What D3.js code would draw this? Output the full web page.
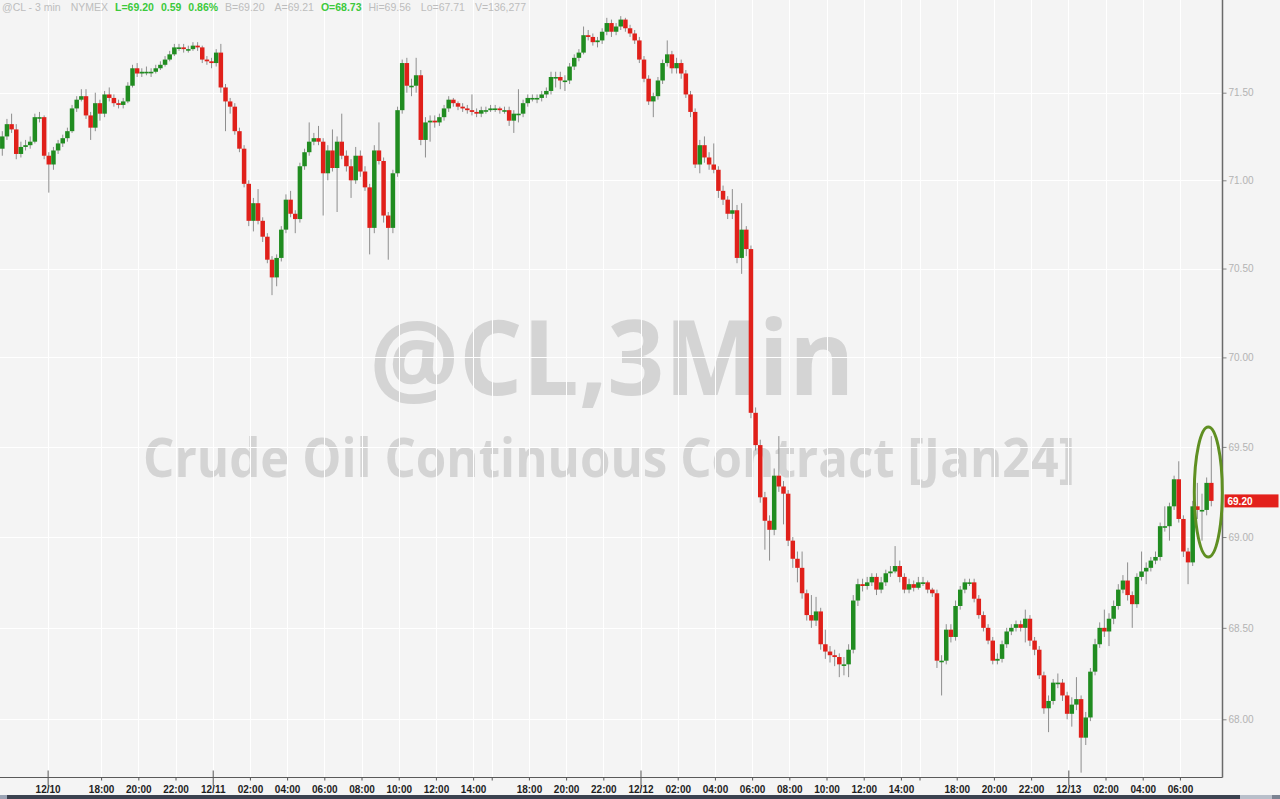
<!DOCTYPE html>
<html>
<head>
<meta charset="utf-8">
<script src="https://d3js.org/d3.v7.min.js"></script>
<style>
html, body { margin: 0; padding: 0; background: #f4f4f4; overflow: hidden; }
svg { display: block; }
</style>
</head>
<body>
<script>
const firstOpen = 71.18;
const closes = [
  71.25,71.32,71.29,71.15,71.19,71.20,71.22,71.36,71.36,71.14,
  71.09,71.17,71.21,71.24,71.28,71.41,71.46,71.48,71.37,71.30,
  71.44,71.38,71.49,71.47,71.44,71.43,71.45,71.54,71.64,71.61,
  71.62,71.62,71.62,71.64,71.66,71.69,71.72,71.76,71.76,71.75,
  71.75,71.77,71.76,71.69,71.68,71.67,71.73,71.53,71.45,71.42,
  71.28,71.18,70.98,70.77,70.87,70.77,70.68,70.55,70.45,70.56,
  70.72,70.89,70.81,70.78,71.08,71.16,71.22,71.24,71.22,71.04,
  71.17,71.07,71.22,71.14,71.08,71.00,71.14,71.05,70.96,70.73,
  71.17,71.11,70.80,70.73,71.04,71.40,71.67,71.54,71.54,71.60,
  71.23,71.33,71.34,71.33,71.36,71.41,71.46,71.44,71.42,71.41,
  71.40,71.39,71.38,71.40,71.40,71.41,71.41,71.40,71.40,71.34,
  71.38,71.38,71.44,71.47,71.47,71.47,71.49,71.51,71.59,71.59,
  71.57,71.57,71.65,71.70,71.73,71.83,71.82,71.79,71.80,71.85,
  71.90,71.85,71.88,71.92,71.87,71.84,71.80,71.69,71.58,71.45,
  71.48,71.57,71.67,71.72,71.64,71.67,71.61,71.49,71.39,71.09,
  71.20,71.13,71.09,71.06,70.94,70.89,70.81,70.83,70.56,70.72,
  70.61,69.69,69.51,69.22,69.09,69.04,69.34,69.28,69.24,68.98,
  68.88,68.83,68.69,68.57,68.54,68.59,68.41,68.37,68.35,68.34,
  68.30,68.30,68.38,68.65,68.74,68.73,68.75,68.78,68.71,68.75,
  68.80,68.81,68.84,68.78,68.71,68.74,68.72,68.75,68.75,68.71,
  68.69,68.32,68.32,68.49,68.45,68.62,68.71,68.75,68.75,68.66,
  68.57,68.50,68.43,68.32,68.33,68.41,68.48,68.50,68.52,68.50,
  68.55,68.43,68.38,68.24,68.06,68.10,68.20,68.20,68.13,68.03,
  68.08,68.11,67.90,68.01,68.26,68.41,68.50,68.48,68.55,68.62,
  68.71,68.76,68.68,68.63,68.78,68.81,68.83,68.87,68.89,69.06,
  69.06,69.17,69.32,69.10,68.92,68.86,69.17,69.15,69.15,69.30,
  69.20
];
const highs = [
  71.28,71.35,71.38,71.32,71.22,71.23,71.25,71.38,71.39,71.37,
  71.16,71.19,71.23,71.26,71.30,71.43,71.48,71.52,71.52,71.39,
  71.50,71.46,71.51,71.53,71.49,71.46,71.47,71.56,71.66,71.67,
  71.64,71.65,71.64,71.66,71.68,71.71,71.74,71.78,71.78,71.78,
  71.77,71.79,71.79,71.77,71.71,71.70,71.75,71.78,71.55,71.47,
  71.44,71.30,71.20,71.00,70.90,70.95,70.79,70.70,70.57,70.58,
  70.74,70.92,70.94,70.83,71.10,71.18,71.33,71.27,71.31,71.24,
  71.20,71.29,71.25,71.38,71.17,71.12,71.19,71.17,71.08,70.98,
  71.20,71.33,71.13,70.82,71.06,71.42,71.69,71.70,71.58,71.70,
  71.63,71.36,71.37,71.37,71.38,71.43,71.48,71.47,71.45,71.44,
  71.43,71.49,71.41,71.42,71.42,71.43,71.43,71.42,71.42,71.42,
  71.40,71.52,71.46,71.49,71.49,71.49,71.51,71.53,71.62,71.62,
  71.62,71.60,71.67,71.72,71.75,71.88,71.86,71.84,71.82,71.87,
  71.93,71.92,71.90,71.94,71.93,71.89,71.86,71.82,71.71,71.60,
  71.50,71.59,71.69,71.80,71.74,71.70,71.69,71.63,71.51,71.41,
  71.23,71.25,71.16,71.21,71.08,70.97,70.91,70.95,70.86,70.87,
  70.74,70.63,69.72,69.54,69.25,69.12,69.38,69.56,69.31,69.26,
  69.00,68.92,68.92,68.71,68.68,68.67,68.61,68.49,68.40,68.38,
  68.36,68.34,68.41,68.68,68.77,68.77,68.78,68.80,68.80,68.78,
  68.82,68.84,68.95,68.87,68.80,68.77,68.76,68.78,68.78,68.76,
  68.72,68.71,68.35,68.52,68.52,68.65,68.73,68.77,68.77,68.77,
  68.68,68.59,68.52,68.45,68.36,68.43,68.50,68.52,68.54,68.54,
  68.60,68.57,68.45,68.40,68.26,68.13,68.22,68.25,68.22,68.15,
  68.12,68.23,68.13,68.04,68.28,68.44,68.53,68.60,68.58,68.65,
  68.74,68.79,68.86,68.70,68.80,68.92,68.86,68.89,68.92,69.08,
  69.17,69.19,69.34,69.42,69.12,68.94,69.20,69.30,69.24,69.33,
  69.56
];
const lows = [
  71.14,71.23,71.27,71.12,71.13,71.17,71.18,71.21,71.33,71.12,
  70.93,71.06,71.15,71.19,71.22,71.27,71.39,71.45,71.35,71.23,
  71.28,71.34,71.36,71.45,71.42,71.41,71.41,71.44,71.53,71.59,
  71.59,71.60,71.59,71.61,71.63,71.65,71.68,71.71,71.74,71.73,
  71.73,71.74,71.74,71.67,71.66,71.64,71.65,71.50,71.28,71.38,
  71.26,71.16,70.96,70.74,70.71,70.75,70.65,70.53,70.35,70.40,
  70.54,70.70,70.79,70.70,70.76,71.06,71.14,71.20,71.20,70.80,
  71.00,71.05,70.82,71.12,71.05,70.90,70.98,71.02,70.94,70.58,
  70.70,71.09,70.76,70.55,70.70,71.02,71.38,71.50,71.48,71.50,
  71.20,71.13,71.22,71.30,71.31,71.34,71.39,71.42,71.40,71.39,
  71.38,71.37,71.36,71.36,71.38,71.39,71.39,71.38,71.38,71.31,
  71.27,71.33,71.36,71.42,71.45,71.44,71.45,71.47,71.49,71.53,
  71.52,71.51,71.55,71.63,71.68,71.72,71.80,71.77,71.76,71.78,
  71.83,71.82,71.83,71.86,71.85,71.82,71.78,71.67,71.56,71.43,
  71.36,71.46,71.55,71.65,71.61,71.61,71.58,71.47,71.36,71.07,
  71.04,71.10,71.06,71.04,70.90,70.86,70.78,70.78,70.53,70.47,
  70.57,69.66,69.48,69.19,68.93,68.87,69.01,69.25,69.07,68.95,
  68.83,68.75,68.66,68.54,68.50,68.51,68.38,68.33,68.31,68.29,
  68.23,68.24,68.23,68.36,68.62,68.70,68.71,68.73,68.68,68.69,
  68.73,68.78,68.80,68.75,68.69,68.69,68.70,68.71,68.73,68.69,
  68.67,68.28,68.13,68.30,68.42,68.43,68.60,68.69,68.73,68.64,
  68.55,68.48,68.41,68.30,68.30,68.31,68.39,68.46,68.48,68.48,
  68.42,68.40,68.35,68.22,68.03,67.93,68.08,68.17,68.10,68.00,
  67.96,68.05,67.71,67.86,67.99,68.24,68.39,68.45,68.40,68.52,
  68.60,68.69,68.65,68.50,68.61,68.76,68.74,68.81,68.85,68.87,
  69.03,68.98,69.15,69.08,68.89,68.74,68.84,69.10,68.98,69.12,
  69.17
];

/* time axis: label and the bar index it falls on */
const tickLabels = ['12/10','18:00','20:00','22:00','12/11','02:00','04:00','06:00','08:00','10:00','12:00','14:00','',
  '18:00','20:00','22:00','12/12','02:00','04:00','06:00','08:00','10:00','12:00','14:00','',
  '18:00','20:00','22:00','12/13','02:00','04:00','06:00'];
const tickBars = [9.75,21.25,29.25,37.25,45.25,53.25,61.25,69.25,77.25,85.25,93.25,101.25,105.25,
  113.25,121.25,129.25,137.25,145.25,153.25,161.25,169.25,177.25,185.25,193.25,197.25,
  205.25,213.25,221.25,229.25,237.25,245.25,253.25];
const priceTicks = [68.0, 68.5, 69.0, 69.5, 70.0, 70.5, 71.0, 71.5];
const lastPrice = 69.20;
const header = [
  ['@CL - 3 min', 'gray'], ['NYMEX', 'gray'], ['L=69.20', 'green'], ['0.59', 'green'], ['0.86%', 'green'],
  ['B=69.20', 'gray'], ['A=69.21', 'gray'], ['O=68.73', 'green'], ['Hi=69.56', 'gray'], ['Lo=67.71', 'gray'],
  ['V=136,277', 'gray']
];

let width = 1280;
let height = 799;
let axisX = 1222.5;
let axisY = 777.5;
let step = 4.65;

let svg = d3.select('body').append('svg')
    .attr('width', width)
    .attr('height', height);

svg.append('rect').attr('width', width).attr('height', height).attr('fill', '#f4f4f4');

let bars = closes.map((c, i) => ({
    i,
    open: i === 0 ? firstOpen : closes[i - 1],
    close: c,
    high: highs[i],
    low: lows[i]
}));

let x = d3.scaleLinear()
    .domain([0, bars.length - 1])
    .range([2.3, 2.3 + step * (bars.length - 1)]);
let y = d3.scaleLog()
    .domain([71.5, 68.0])
    .range([92.7, 719.3]);

/* watermark */
let mark = svg.append('g')
    .attr('font-family', 'Open Sans, Liberation Sans, Arial, sans-serif')
    .attr('font-weight', 'bold')
    .attr('fill', '#d4d4d4')
    .attr('text-anchor', 'middle');
mark.append('text').attr('x', 612).attr('y', 395).attr('font-size', 104)
    .attr('textLength', 485).attr('lengthAdjust', 'spacingAndGlyphs').text('@CL,3Min');
mark.append('text').attr('x', 609).attr('y', 477).attr('font-size', 53)
    .attr('textLength', 932).attr('lengthAdjust', 'spacingAndGlyphs').text('Crude Oil Continuous Contract [Jan24]');

/* grid */
let grid = svg.append('g').attr('stroke', '#ffffff').attr('stroke-width', 1);
grid.selectAll('line.v').data(tickBars).join('line')
    .attr('class', 'v')
    .attr('x1', d => Math.round(x(d)) + 0.5).attr('x2', d => Math.round(x(d)) + 0.5)
    .attr('y1', 0).attr('y2', axisY);
grid.selectAll('line.h').data(priceTicks).join('line')
    .attr('class', 'h')
    .attr('x1', 0).attr('x2', axisX)
    .attr('y1', d => Math.round(y(d)) + 0.5).attr('y2', d => Math.round(y(d)) + 0.5);

/* candles */
let candles = svg.append('g');
candles.selectAll('line').data(bars).join('line')
    .attr('x1', d => x(d.i)).attr('x2', d => x(d.i))
    .attr('y1', d => y(d.high)).attr('y2', d => y(d.low))
    .attr('stroke', '#8e8e8e').attr('stroke-width', 1);
candles.selectAll('rect').data(bars).join('rect')
    .attr('x', d => x(d.i) - 2.25)
    .attr('width', 4.5)
    .attr('y', d => Math.min(y(d.open), y(d.close)))
    .attr('height', d => Math.max(1.6, Math.abs(y(d.open) - y(d.close))))
    .attr('fill', d => d.close >= d.open ? '#208c20' : '#e0201a');

/* right price axis */
let yAxis = d3.axisRight(y)
    .tickValues(priceTicks)
    .tickFormat(d3.format('.2f'))
    .tickSize(4)
    .tickPadding(2);
let yg = svg.append('g')
    .attr('transform', `translate(${axisX}, 0)`)
    .call(yAxis);
yg.select('.domain').remove();
yg.selectAll('.tick line').attr('stroke', '#888');
yg.selectAll('.tick text')
    .attr('fill', '#b3b3b3')
    .attr('font-size', 10)
    .attr('font-family', 'Liberation Sans, Arial, sans-serif');
svg.append('line')
    .attr('x1', axisX).attr('x2', axisX).attr('y1', 0).attr('y2', axisY)
    .attr('stroke', '#6a6a6a').attr('stroke-width', 1.5);

/* last price flag */
svg.append('rect')
    .attr('x', axisX + 2).attr('y', y(lastPrice) - 6.5)
    .attr('width', 54).attr('height', 13)
    .attr('fill', '#e3201b');
svg.append('text')
    .attr('x', axisX + 5).attr('y', y(lastPrice) + 3.6)
    .attr('fill', '#ffffff').attr('font-size', 10).attr('font-weight', 'bold')
    .attr('font-family', 'Liberation Sans, Arial, sans-serif')
    .text(d3.format('.2f')(lastPrice));

/* time axis */
let xAxis = d3.axisBottom(x)
    .tickValues(tickBars)
    .tickFormat((d, i) => tickLabels[i])
    .tickSizeInner(3)
    .tickSizeOuter(0)
    .tickPadding(5);
let xg = svg.append('g')
    .attr('transform', `translate(0, ${axisY})`)
    .call(xAxis);
xg.select('.domain').remove();
xg.selectAll('.tick line')
    .attr('stroke', '#555')
    .attr('y1', (d, i) => tickLabels[i].includes('/') ? -7 : 0)
    .attr('y2', (d, i) => tickLabels[i].includes('/') ? 8 : 3);
xg.selectAll('.tick text')
    .attr('fill', '#1e1e1e')
    .attr('font-size', 10)
    .attr('font-weight', 'bold')
    .attr('font-family', 'Liberation Sans, Arial, sans-serif');
svg.append('line')
    .attr('x1', 0).attr('x2', axisX).attr('y1', axisY).attr('y2', axisY)
    .attr('stroke', '#5a5a5a').attr('stroke-width', 1);

/* circled last bars */
svg.append('ellipse')
    .attr('cx', x(bars.length - 1) - 3).attr('cy', 492)
    .attr('rx', 14).attr('ry', 65)
    .attr('fill', 'none').attr('stroke', '#5f8f22').attr('stroke-width', 3);

/* header line */
let head = svg.append('text')
    .attr('x', 2).attr('y', 11)
    .attr('font-size', 10.5)
    .attr('font-family', 'Liberation Sans, Arial, sans-serif')
    .attr('xml:space', 'preserve');
head.selectAll('tspan').data(header).join('tspan')
    .attr('dx', (d, i) => i === 0 ? 0 : (d[1] === 'green' || header[i - 1][1] === 'green' ? 7 : 10))
    .attr('fill', d => d[1] === 'green' ? '#3cc93c' : '#bdbdbd')
    .attr('font-weight', d => d[1] === 'green' ? 'bold' : 'normal')
    .text(d => d[0]);

/* scroll bar strip at the bottom */
svg.append('rect').attr('x', 0).attr('y', 795).attr('width', 7).attr('height', 4).attr('fill', '#9aa3b4');
svg.append('rect').attr('x', 7).attr('y', 795).attr('width', 1233).attr('height', 4).attr('fill', '#3b4250');
svg.append('rect').attr('x', 1240).attr('y', 795).attr('width', 32).attr('height', 4).attr('fill', '#b8bfca');
svg.append('rect').attr('x', 1272).attr('y', 795).attr('width', 8).attr('height', 4).attr('fill', '#7b8392');
</script>
</body>
</html>
